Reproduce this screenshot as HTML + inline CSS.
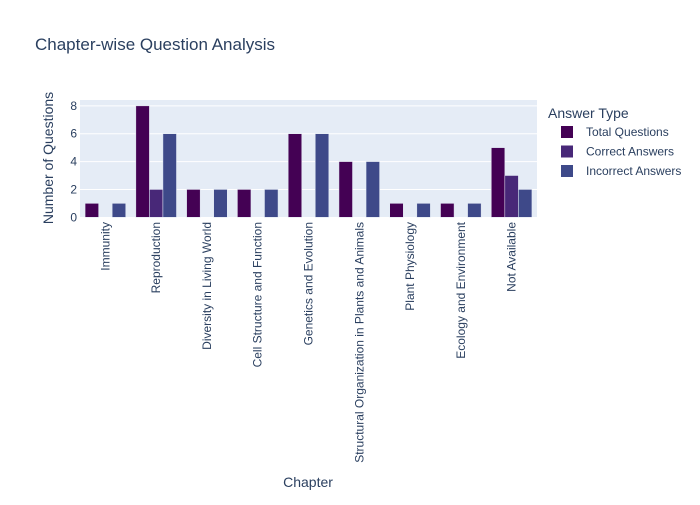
<!DOCTYPE html>
<html><head><meta charset="utf-8"><style>
body{margin:0;background:#fff;font-family:"Liberation Sans",Arial,sans-serif}
text{font-family:"Liberation Sans",Arial,sans-serif}
</style></head><body>
<svg id="c" width="700" height="500">
<rect width="700" height="500" fill="#fff"/>
<text x="35" y="50" font-size="17" fill="#2a3f5f">Chapter-wise Question Analysis</text>
<rect x="80" y="100" width="457" height="117" fill="#e5ecf6"/>
<g id="grid"></g><g id="bars"></g><g id="xt"></g>
<text x="0" y="0" transform="translate(53,158) rotate(-90)" text-anchor="middle" font-size="14" fill="#2a3f5f">Number of Questions</text>
<text x="308" y="487" text-anchor="middle" font-size="14" fill="#2a3f5f">Chapter</text>
<g id="legend"></g>
</svg>
<script>
const categories=["Immunity","Reproduction","Diversity in Living World","Cell Structure and Function","Genetics and Evolution","Structural Organization in Plants and Animals","Plant Physiology","Ecology and Environment","Not Available"];
const seriesNames=["Total Questions","Correct Answers","Incorrect Answers"];
const totalQ=[1,8,2,2,6,4,1,1,5];
const correctA=[0,2,0,0,0,0,0,0,3];
const incorrectA=[1,6,2,2,6,4,1,1,2];
const yTicks=[0,2,4,6,8];
const colors=["#440154","#482878","#3e4989"];
const series=[totalQ,correctA,incorrectA];
const x0=80,w=457,y0=217.3,yTop=100,yMax=8.42;
const ns="http://www.w3.org/2000/svg";
function el(t,a,p){const e=document.createElementNS(ns,t);for(const k in a)e.setAttribute(k,a[k]);p.appendChild(e);return e;}
const Y=v=>y0-(v/yMax)*(y0-yTop);
const band=w/categories.length;
const X=i=>x0+band*i;
const grid=document.getElementById('grid');
yTicks.forEach(t=>{
 if(t>0){const l=el('line',{x1:x0,x2:x0+w,y1:Y(t),y2:Y(t),stroke:'#fff','stroke-width':1},grid);
 
 }
 const tx=el('text',{x:x0-3,y:Y(t)+4,'text-anchor':'end','font-size':12,fill:'#2a3f5f'},grid);
 tx.textContent=t;
 
 
});
const bars=document.getElementById('bars');
const bw=band*0.8/3;
series.forEach((s,j)=>{
 s.forEach((v,i)=>{
  if(v<=0)return;
  const bx=X(i)+band*0.1+j*bw;
  const r=el('rect',{x:bx,y:Y(v),width:bw,height:Y(0)-Y(v),fill:colors[j],stroke:'#e5ecf6','stroke-width':0.5},bars);
  
  
 });
});
const xt=document.getElementById('xt');
categories.forEach((c,i)=>{
 const cx=X(i)+band/2+4;
 const t=el('text',{transform:`translate(${cx},222) rotate(-90)`,'text-anchor':'end','font-size':12,fill:'#2a3f5f'},xt);
 t.textContent=c;
 
 
});
const lg=document.getElementById('legend');
const lt=el('text',{x:548,y:118,'font-size':14,fill:'#2a3f5f'},lg);
lt.textContent="Answer Type";


seriesNames.forEach((n,j)=>{
 const y=132+j*19.5;
 const g=el('g',{},lg);
 
 
 el('rect',{x:561,y:y-6,width:12,height:12,fill:colors[j]},g);
 const t=el('text',{x:586,y:y+4,'font-size':12,fill:'#2a3f5f'},g);
 t.textContent=n;
});
</script>
</body></html>
